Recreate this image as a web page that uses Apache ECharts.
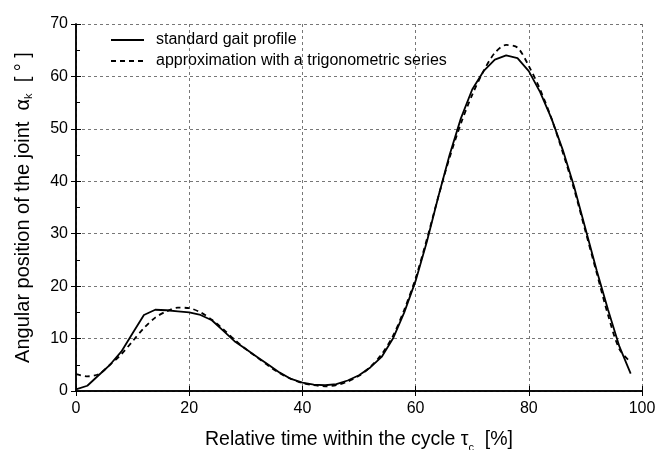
<!DOCTYPE html>
<html><head><meta charset="utf-8">
<script src="https://cdn.jsdelivr.net/npm/echarts@6/dist/echarts.min.js"></script>
<style>html,body{margin:0;padding:0;background:#fff}#c{width:668px;height:450px}</style>
</head><body><div id="c"></div>
<script>
const xValues = [0,2,4,6,8,10,12,14,16,18,20,22,24,26,28,30,32,34,36,38,40,42,44,46,48,50,52,54,56,58,60,62,64,66,68,70,72,74,76,78,80,82,84,86,88,90,92,94,96,98];
const standardProfile = [0.3,1.0,3.0,5.0,7.5,11.0,14.5,15.5,15.4,15.2,15.0,14.5,13.5,11.5,9.5,8.0,6.5,5.0,3.5,2.3,1.6,1.2,1.1,1.3,2.0,3.0,4.5,6.5,10.0,15.0,21.0,28.5,37.0,45.0,52.0,57.5,61.0,63.2,64.0,63.5,61.0,57.0,52.0,46.0,39.0,31.0,23.0,15.5,8.5,3.3];
const trigApprox = [3.2,2.8,3.2,5.0,7.0,9.5,12.0,14.0,15.2,15.9,15.8,15.0,13.6,11.8,9.8,8.0,6.4,4.8,3.4,2.3,1.5,1.1,0.9,1.1,1.8,2.9,4.6,7.0,10.5,15.5,21.5,29.0,37.0,44.5,51.0,56.5,61.0,64.5,66.0,65.5,62.0,57.5,52.0,45.5,38.5,30.5,22.5,14.5,8.0,5.5];
const seriesNames = ['standard gait profile','approximation with a trigonometric series'];

const FONT = '"Liberation Sans", Arial, sans-serif';
const chart = echarts.init(document.getElementById('c'));
const pair = a => xValues.map((x,i)=>[x,a[i]]);
const axLine = {show:true, lineStyle:{color:'#000', width:1.5}};
chart.setOption({
  animation:false,
  grid:{left:76, right:26, top:24, bottom:59, containLabel:false, outerBoundsMode:'none'},
  legend:{
    orient:'vertical', left:105, top:27, itemWidth:33, itemHeight:12, itemGap:5,
    itemStyle:{opacity:0},
    textStyle:{fontFamily:FONT, fontSize:16, color:'#000', padding:[0,0,0,7]},
    data:seriesNames
  },
  xAxis:[{
    type:'value', min:0, max:100, interval:20, position:'bottom',
    axisLine:axLine, axisTick:{inside:true, length:5, lineStyle:{color:'#000'}},
    axisLabel:{fontFamily:FONT, fontSize:16, color:'#000', margin:10},
    splitLine:{show:true, lineStyle:{color:'#555', type:[3,3], width:0.8}},
    name:'Relative time within the cycle {g|τ}{s|c}  [%]', nameLocation:'middle', nameGap:35,
    nameTextStyle:{fontFamily:FONT, fontSize:19.5, color:'#000',
      rich:{g:{fontFamily:FONT, fontSize:19.5, color:'#000'}, s:{fontFamily:FONT, fontSize:11, color:'#000', padding:[16,0,0,0]}}}
  },{
    type:'value', min:0, max:100, interval:20, position:'top',
    axisLine:axLine, axisTick:{inside:true, length:5, lineStyle:{color:'#000'}},
    axisLabel:{show:false}, splitLine:{show:false}
  }],
  yAxis:[{
    type:'value', min:0, max:70, interval:10, position:'left',
    axisLine:axLine, axisTick:{inside:true, length:5, lineStyle:{color:'#000'}},
    minorTick:{show:true, splitNumber:2, length:4, lineStyle:{color:'#000'}},
    axisLabel:{fontFamily:FONT, fontSize:16, color:'#000', margin:8},
    splitLine:{show:true, lineStyle:{color:'#555', type:[3,3], width:0.8}},
    name:'Angular position of the joint  {g|α}{s|k}  [ ° ]', nameLocation:'middle', nameGap:42, nameRotate:90,
    nameTextStyle:{fontFamily:FONT, fontSize:20, color:'#000',
      rich:{g:{fontFamily:FONT, fontSize:20, color:'#000'}, s:{fontFamily:FONT, fontSize:11, color:'#000', padding:[10,0,0,0]}}}
  },{
    type:'value', min:0, max:70, interval:10, position:'right',
    axisLine:axLine, axisTick:{inside:true, length:5, lineStyle:{color:'#000'}},
    axisLabel:{show:false}, splitLine:{show:false}
  }],
  series:[
    {name:seriesNames[0], type:'line', data:pair(standardProfile), showSymbol:false, symbol:'none',
     lineStyle:{color:'#000', width:1.8, type:'solid'}, itemStyle:{color:'#000'}},
    {name:seriesNames[1], type:'line', data:pair(trigApprox), showSymbol:false, symbol:'none', smooth:0.3,
     lineStyle:{color:'#000', width:1.8, type:[5,4]}, itemStyle:{color:'#000'}}
  ]
});
</script></body></html>
